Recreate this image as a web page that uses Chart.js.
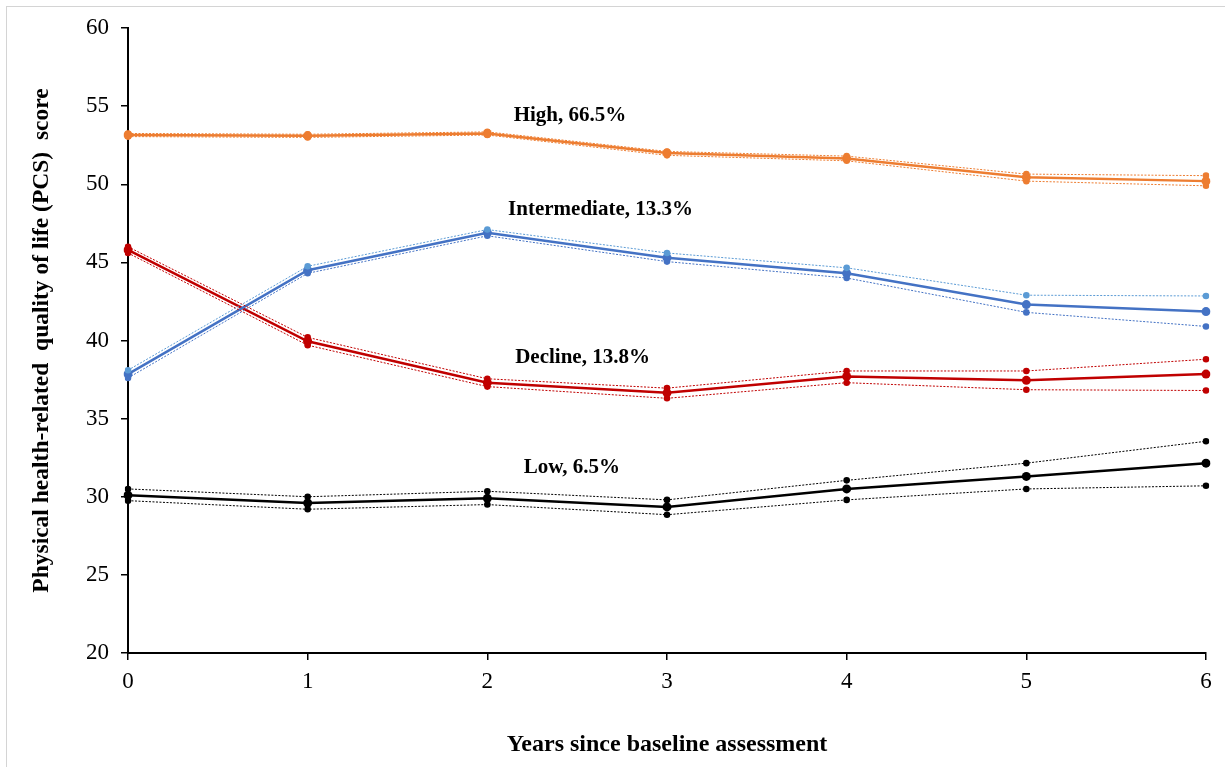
<!DOCTYPE html>
<html>
<head>
<meta charset="utf-8">
<script src="https://cdn.jsdelivr.net/npm/chart.js@4.4.1/dist/chart.umd.min.js"></script>
<style>
  html, body { margin: 0; padding: 0; background: #fff; }
  #wrap { position: relative; width: 1225px; height: 767px; }
  #frame { position: absolute; left: 6px; top: 6px; right: 0; bottom: 0; border-left: 1px solid #d4d4d4; border-top: 1px solid #d4d4d4; pointer-events: none; }
  canvas { position: absolute; left: 0; top: 0; }
</style>
</head>
<body>
<div id="wrap">
  <canvas id="c" width="1225" height="767"></canvas>
  <div id="frame"></div>
</div>
<script>
// ---- data ----
const years = ['0', '1', '2', '3', '4', '5', '6'];
const yTicks = [20, 25, 30, 35, 40, 45, 50, 55, 60];

const highMean  = [53.15, 53.10, 53.25, 52.00, 51.65, 50.45, 50.20];
const highUpper = [53.25, 53.20, 53.35, 52.10, 51.80, 50.65, 50.55];
const highLower = [53.05, 53.00, 53.15, 51.85, 51.50, 50.20, 49.90];

const intMean   = [37.85, 44.50, 46.90, 45.30, 44.30, 42.30, 41.85];
const intUpper  = [38.10, 44.75, 47.10, 45.60, 44.65, 42.90, 42.85];
const intLower  = [37.60, 44.30, 46.70, 45.05, 44.00, 41.80, 40.90];

const decMean   = [45.80, 39.95, 37.30, 36.65, 37.70, 37.45, 37.85];
const decUpper  = [46.00, 40.20, 37.55, 36.95, 38.05, 38.05, 38.80];
const decLower  = [45.60, 39.70, 37.05, 36.30, 37.30, 36.85, 36.80];

const lowMean   = [30.10, 29.60, 29.90, 29.35, 30.50, 31.30, 32.15];
const lowUpper  = [30.50, 30.00, 30.35, 29.80, 31.05, 32.15, 33.55];
const lowLower  = [29.75, 29.20, 29.50, 28.85, 29.80, 30.50, 30.70];

const groupNames = ['High, 66.5%', 'Intermediate, 13.3%', 'Decline, 13.8%', 'Low, 6.5%'];

// ---- styling / layout ----
const SERIF = '"Liberation Serif", "Times New Roman", "DejaVu Serif", serif';
const labelPos = [
  { x: 2.46, y: 54.37 },
  { x: 2.63, y: 48.35 },
  { x: 2.53, y: 38.88 },
  { x: 2.47, y: 31.84 }
];

function ci(data, color) {
  return {
    data: data, borderColor: color, backgroundColor: color,
    borderWidth: 1, borderDash: [2, 1.5], pointRadius: 3.3, pointHoverRadius: 3.3,
    pointBorderWidth: 0, tension: 0, fill: false
  };
}
function mean(data, color) {
  return {
    data: data, borderColor: color, backgroundColor: color,
    borderWidth: 2.5, pointRadius: 4.5, pointHoverRadius: 4.5,
    pointBorderWidth: 0, tension: 0, fill: false
  };
}

const ORANGE = '#ED7D31', BLUE = '#4472C4', LBLUE = '#5B9BD5', RED = '#C00000', BLACK = '#000000';

const datasets = [
  ci(highUpper, ORANGE), ci(highLower, ORANGE),
  ci(intUpper, LBLUE), ci(intLower, BLUE),
  ci(decUpper, RED), ci(decLower, RED),
  ci(lowUpper, BLACK), ci(lowLower, BLACK),
  mean(highMean, ORANGE), mean(intMean, BLUE), mean(decMean, RED), mean(lowMean, BLACK)
];

const groupLabels = {
  id: 'groupLabels',
  afterDatasetsDraw(chart) {
    const ctx = chart.ctx;
    const xs = chart.scales.x, ys = chart.scales.y;
    ctx.save();
    ctx.font = 'bold 21px ' + SERIF;
    ctx.fillStyle = '#000';
    ctx.textAlign = 'center';
    ctx.textBaseline = 'middle';
    groupNames.forEach((t, i) => {
      const px = xs.left + (xs.right - xs.left) * labelPos[i].x / (years.length - 1);
      ctx.fillText(t, px, ys.getPixelForValue(labelPos[i].y));
    });
    ctx.restore();
  }
};

new Chart(document.getElementById('c'), {
  type: 'line',
  data: { labels: years, datasets: datasets },
  plugins: [groupLabels],
  options: {
    responsive: false,
    animation: false,
    events: [],
    layout: { padding: { top: 28, right: 19, bottom: 0, left: 0 } },
    plugins: { legend: { display: false }, tooltip: { enabled: false } },
    scales: {
      x: {
        type: 'category',
        offset: false,
        grid: { display: true, drawOnChartArea: false, drawTicks: true, tickLength: 7, color: '#000', lineWidth: 1.5 },
        border: { display: true, color: '#000', width: 2 },
        ticks: { color: '#000', font: { family: SERIF, size: 23 }, padding: 8, maxRotation: 0 },
        title: { display: true, text: 'Years since baseline assessment', color: '#000',
                 font: { family: SERIF, size: 24, weight: 'bold' }, padding: { top: 0, bottom: 8 } },
        afterFit(s) { s.height = 114; }
      },
      y: {
        min: 20, max: 60,
        afterBuildTicks(s) { s.ticks = yTicks.map(v => ({ value: v })); },
        grid: { display: true, drawOnChartArea: false, drawTicks: true, tickLength: 7, color: '#000', lineWidth: 1.5 },
        border: { display: true, color: '#000', width: 2 },
        ticks: { color: '#000', font: { family: SERIF, size: 23 }, padding: 12 },
        title: { display: true, text: 'Physical health-related  quality of life (PCS)  score', color: '#000',
                 font: { family: SERIF, size: 23.5, weight: 'bold' }, padding: { top: 28, bottom: 0 } },
        afterFit(s) { s.width = 128; }
      }
    }
  }
});
</script>
</body>
</html>
